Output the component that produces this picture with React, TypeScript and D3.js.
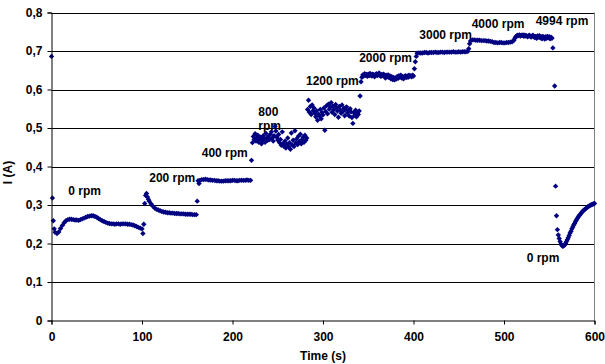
import { useRef, useEffect } from "react";
import * as d3 from "d3";

// sampled segments: start time (s), step (s) and current values (A)
const segStart = [4, 110, 164, 222, 283, 343, 404, 463, 514, 560];
const segStep = [2, 2, 2, 1, 1, 1, 2, 2, 1, 1];

const seg0rpm = [
  0.229, 0.226, 0.230, 0.239, 0.247, 0.254, 0.259, 0.262, 0.263, 0.263, 0.262, 0.261, 0.261, 0.260,
  0.262, 0.264, 0.266, 0.268, 0.270, 0.271, 0.272, 0.272, 0.270, 0.268, 0.265, 0.262, 0.259, 0.257,
  0.255, 0.253, 0.252, 0.251, 0.251, 0.250, 0.251, 0.251, 0.250, 0.251, 0.251, 0.251, 0.250, 0.250,
  0.249, 0.248, 0.246, 0.244, 0.242, 0.240, 0.238,
];
const seg200 = [
  0.303, 0.297, 0.292, 0.289, 0.287, 0.285, 0.283, 0.282, 0.281, 0.280, 0.280, 0.279, 0.279, 0.278,
  0.278, 0.278, 0.277, 0.277, 0.277, 0.276, 0.276, 0.276, 0.276, 0.275, 0.275, 0.275,
];
const seg400 = [
  0.364, 0.366, 0.366, 0.367, 0.366, 0.365, 0.365, 0.364, 0.364, 0.363, 0.363, 0.362, 0.362, 0.362,
  0.363, 0.363, 0.363, 0.363, 0.364, 0.364, 0.363, 0.363, 0.364, 0.364, 0.364, 0.364, 0.365, 0.364,
  0.364,
];
const seg800 = [
  0.462, 0.478, 0.470, 0.485, 0.466, 0.474, 0.481, 0.463, 0.470, 0.476, 0.459, 0.468, 0.480, 0.472,
  0.463, 0.486, 0.475, 0.468, 0.479, 0.470, 0.484, 0.490, 0.474, 0.466, 0.480, 0.504, 0.492, 0.476,
  0.469, 0.483, 0.462, 0.470, 0.455, 0.490, 0.460, 0.452, 0.466, 0.448, 0.458, 0.474, 0.451, 0.462,
  0.445, 0.487, 0.456, 0.468, 0.452, 0.493, 0.461, 0.472, 0.457, 0.479, 0.465, 0.484, 0.459, 0.470,
  0.476, 0.463, 0.481, 0.468, 0.474,
];
const seg1200 = [
  0.548, 0.572, 0.541, 0.556, 0.535, 0.560, 0.545, 0.552, 0.538, 0.529, 0.545, 0.520, 0.536, 0.531,
  0.548, 0.524, 0.540, 0.534, 0.552, 0.494, 0.543, 0.558, 0.537, 0.562, 0.549, 0.554, 0.566, 0.541,
  0.557, 0.548, 0.535, 0.561, 0.552, 0.544, 0.528, 0.556, 0.547, 0.538, 0.560, 0.543, 0.551, 0.532,
  0.548, 0.555, 0.539, 0.546, 0.531, 0.550, 0.542, 0.527, 0.512, 0.540, 0.533, 0.546, 0.529, 0.538,
  0.535, 0.544,
];
const seg2000 = [
  0.632, 0.638, 0.635, 0.641, 0.637, 0.639, 0.634, 0.640, 0.636, 0.642, 0.637, 0.635, 0.640, 0.638,
  0.633, 0.639, 0.641, 0.636, 0.638, 0.643, 0.637, 0.634, 0.639, 0.636, 0.640, 0.635, 0.630, 0.637,
  0.633, 0.638, 0.631, 0.635, 0.628, 0.633, 0.626, 0.631, 0.625, 0.630, 0.627, 0.634, 0.629, 0.636,
  0.632, 0.637, 0.630, 0.634, 0.628, 0.633, 0.636, 0.631, 0.635, 0.632, 0.637, 0.634, 0.636, 0.633,
  0.637, 0.635,
];
const seg3000 = [
  0.694, 0.695, 0.695, 0.695, 0.696, 0.696, 0.695, 0.696, 0.696, 0.696, 0.697, 0.696, 0.696, 0.697,
  0.697, 0.696, 0.697, 0.697, 0.697, 0.697, 0.698, 0.697, 0.697, 0.698, 0.697, 0.698, 0.698, 0.698,
  0.699,
];
const seg4000 = [
  0.726, 0.729, 0.729, 0.728, 0.728, 0.728, 0.727, 0.727, 0.727, 0.726, 0.726, 0.725, 0.724, 0.722,
  0.722, 0.721, 0.722, 0.722, 0.721, 0.721, 0.722, 0.722, 0.723, 0.724, 0.728,
];
const seg4994 = [
  0.739, 0.741, 0.740, 0.742, 0.739, 0.741, 0.740, 0.742, 0.738, 0.741, 0.739, 0.740, 0.737, 0.739,
  0.741, 0.738, 0.736, 0.739, 0.741, 0.737, 0.735, 0.738, 0.733, 0.739, 0.736, 0.740, 0.734, 0.737,
  0.732, 0.738, 0.735, 0.731, 0.737, 0.733, 0.738, 0.734, 0.737, 0.732, 0.736, 0.733,
];
const segStop = [
  0.222, 0.213, 0.205, 0.199, 0.195, 0.193, 0.194, 0.196, 0.200, 0.205, 0.210, 0.215, 0.221, 0.227,
  0.232, 0.238, 0.243, 0.248, 0.252, 0.257, 0.261, 0.265, 0.269, 0.272, 0.275, 0.278, 0.281, 0.284,
  0.286, 0.288, 0.290, 0.292, 0.294, 0.296, 0.297, 0.299, 0.300, 0.301, 0.302, 0.303, 0.304,
];
const segments = [seg0rpm, seg200, seg400, seg800, seg1200, seg2000, seg3000, seg4000, seg4994, segStop];

// single readings: start-up, outliers and speed changes
const stepTimes = [
  0, 1, 2, 3, 101, 102, 103, 104, 105, 106, 107, 108, 161, 162, 163, 221, 341, 342, 401, 402, 403,
  461, 462, 512, 513, 554, 556, 557, 558, 559,
];
const stepValues = [
  0.686, 0.318, 0.259, 0.238, 0.226, 0.250, 0.304, 0.325, 0.330, 0.321, 0.315, 0.310, 0.310, 0.363,
  0.356, 0.416, 0.583, 0.620, 0.654, 0.672, 0.686, 0.706, 0.719, 0.733, 0.737, 0.708, 0.609, 0.349,
  0.272, 0.236,
];

const labelText = ["0 rpm", "200 rpm", "400 rpm", "800", "rpm", "1200 rpm", "2000 rpm", "3000 rpm", "4000 rpm", "4994 rpm", "0 rpm"];
const labelTime = [18.6, 108, 166, 228.5, 228.5, 281.2, 340, 406.4, 464.3, 535, 525];
const labelCurrent = [0.325, 0.36, 0.425, 0.531, 0.495, 0.611, 0.672, 0.73, 0.761, 0.767, 0.151];

const xTicks = [0, 100, 200, 300, 400, 500, 600];
const yTicks = [0, 0.1, 0.2, 0.3, 0.4, 0.5, 0.6, 0.7, 0.8];

const W = 605;
const H = 364;
const FONT = "'Liberation Sans', Arial, sans-serif";
const NAVY = "#000080";

export default function App() {
  const svgRef = useRef<SVGSVGElement>(null);

  useEffect(() => {
    if (!svgRef.current) return;
    const svg = d3.select(svgRef.current);
    svg.selectAll("*").remove();

    const x = d3.scaleLinear().domain([0, 600]).range([51.5, 594.5]);
    const y = d3.scaleLinear().domain([0, 0.8]).range([320.5, 12.5]);

    const points: [number, number][] = [];
    segments.forEach((vals, i) => {
      vals.forEach((v, j) => points.push([segStart[i] + j * segStep[i], v]));
    });
    stepTimes.forEach((t, i) => points.push([t, stepValues[i]]));

    // gridlines
    svg
      .append("g")
      .selectAll("line")
      .data(yTicks.slice(1))
      .enter()
      .append("line")
      .attr("x1", x(0))
      .attr("x2", x(600))
      .attr("y1", (d) => Math.round(y(d)) + 0.5)
      .attr("y2", (d) => Math.round(y(d)) + 0.5)
      .attr("stroke", "#000")
      .attr("stroke-width", 1);

    // right border of plot area
    svg
      .append("line")
      .attr("x1", x(600))
      .attr("x2", x(600))
      .attr("y1", y(0.8))
      .attr("y2", y(0))
      .attr("stroke", "#808080");

    // labels under the markers
    svg
      .append("g")
      .selectAll("text")
      .data(labelText)
      .enter()
      .append("text")
      .attr("x", (_, i) => x(labelTime[i]))
      .attr("y", (_, i) => y(labelCurrent[i]))
      .attr("font-family", FONT)
      .attr("font-weight", "bold")
      .attr("font-size", 12)
      .attr("fill", "#000")
      .text((d) => d);

    // markers
    const r = 2.7;
    svg
      .append("g")
      .selectAll("path")
      .data(points)
      .enter()
      .append("path")
      .attr("transform", (d) => `translate(${x(d[0])},${y(d[1])})`)
      .attr("d", `M0,${-r}L${r},0L0,${r}L${-r},0Z`)
      .attr("fill", NAVY);

    // axes
    const yAxis = d3
      .axisLeft(y)
      .tickValues(yTicks)
      .tickSize(4)
      .tickPadding(5)
      .tickFormat((d) => (d === 0 ? "0" : d3.format(".1f")(d as number).replace(".", ",")));
    const gy = svg.append("g").attr("transform", `translate(${x(0)},0)`).call(yAxis);

    const xAxis = d3.axisBottom(x).tickValues(xTicks).tickSize(4).tickPadding(8).tickFormat(d3.format("d"));
    const gx = svg.append("g").attr("transform", `translate(0,${y(0)})`).call(xAxis);

    [gx, gy].forEach((g) => {
      g.select(".domain").attr("stroke", "#000");
      g.selectAll(".tick line").attr("stroke", "#000");
      g.selectAll(".tick text")
        .attr("font-family", FONT)
        .attr("font-weight", "bold")
        .attr("font-size", 12)
        .attr("fill", "#000");
    });

    svg
      .append("text")
      .attr("x", (x(0) + x(600)) / 2)
      .attr("y", 360)
      .attr("text-anchor", "middle")
      .attr("font-family", FONT)
      .attr("font-weight", "bold")
      .attr("font-size", 12)
      .text("Time (s)");

    svg
      .append("text")
      .attr("transform", `translate(12,${(y(0) + y(0.8)) / 2 + 6}) rotate(-90)`)
      .attr("text-anchor", "middle")
      .attr("font-family", FONT)
      .attr("font-weight", "bold")
      .attr("font-size", 12)
      .text("I (A)");
  }, []);

  return (
    <svg
      ref={svgRef}
      width={W}
      height={H}
      style={{ position: "absolute", left: 0, top: 0, background: "#fff" }}
    />
  );
}
